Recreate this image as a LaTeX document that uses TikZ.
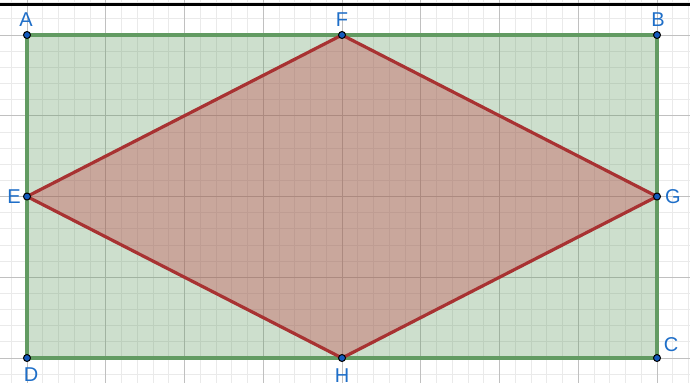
\documentclass[tikz,border=0pt]{standalone}
\usepackage{fontspec}
\setmainfont{Liberation Sans}
\begin{document}
\begin{tikzpicture}[x=1pt,y=-1pt,
  minorgrid/.style={draw={rgb,255:red,234;green,234;blue,234},line width=0.8pt},
  majorgrid/.style={draw={rgb,255:red,192;green,192;blue,192},line width=1pt},
  rectfill/.style={fill={rgb,255:red,90;green,150;blue,90},fill opacity=0.3},
  rectline/.style={draw={rgb,255:red,98;green,155;blue,98},line width=3.2pt},
  rhofill/.style={fill={rgb,255:red,195;green,64;blue,67},fill opacity=0.35},
  rholine/.style={draw={rgb,255:red,168;green,50;blue,50},line width=3.2pt,line join=round},
  pt/.style={circle,inner sep=0pt,minimum size=7pt,fill={rgb,255:red,20;green,90;blue,190},draw=black,line width=1pt},
  lbl/.style={text={rgb,255:red,30;green,110;blue,200},font=\fontsize{20}{22}\selectfont,inner sep=0pt}]
\useasboundingbox (0,0) rectangle (690,383);
\fill[white] (0,0) rectangle (690,383);
% minor grid
\foreach \i in {-1,...,42} {
  \draw[minorgrid] ({27+15.75*\i},0) -- ({27+15.75*\i},383);
}
\foreach \j in {-2,...,22} {
  \draw[minorgrid] (0,{35+16.15*\j}) -- (690,{35+16.15*\j});
}
% major grid
\foreach \i in {0,...,8} {
  \draw[majorgrid] ({27+78.75*\i},0) -- ({27+78.75*\i},383);
}
\foreach \j in {0,...,4} {
  \draw[majorgrid] (0,{35+80.75*\j}) -- (690,{35+80.75*\j});
}
% top black line
\fill[black] (0,3) rectangle (690,6);
% points
\coordinate (pA) at (27,35);
\coordinate (pB) at (657,35);
\coordinate (pC) at (657,358);
\coordinate (pD) at (27,358);
\coordinate (pE) at (27,196.5);
\coordinate (pF) at (342,35);
\coordinate (pG) at (657,196.5);
\coordinate (pH) at (342,358);
\fill[rectfill] (pA) -- (pB) -- (pC) -- (pD) -- cycle;
\fill[rhofill] (pF) -- (pG) -- (pH) -- (pE) -- cycle;
\draw[rectline] (pA) -- (pB) -- (pC) -- (pD) -- cycle;
\draw[rholine] (pF) -- (pG) -- (pH) -- (pE) -- cycle;
\foreach \p in {A,B,C,D,E,F,G,H} {
  \node[pt] (\p) at (p\p) {};
}
\node[lbl] (lA) at (26,20) {A};
\node[lbl] (lB) at (658,20) {B};
\node[lbl] (lF) at (342,20) {F};
\node[lbl] (lC) at (671,345) {C};
\node[lbl] (lD) at (31,375) {D};
\node[lbl] (lH) at (342,376) {H};
\node[lbl] (lE) at (14,197) {E};
\node[lbl] (lG) at (673,197) {G};
\end{tikzpicture}
\end{document}
